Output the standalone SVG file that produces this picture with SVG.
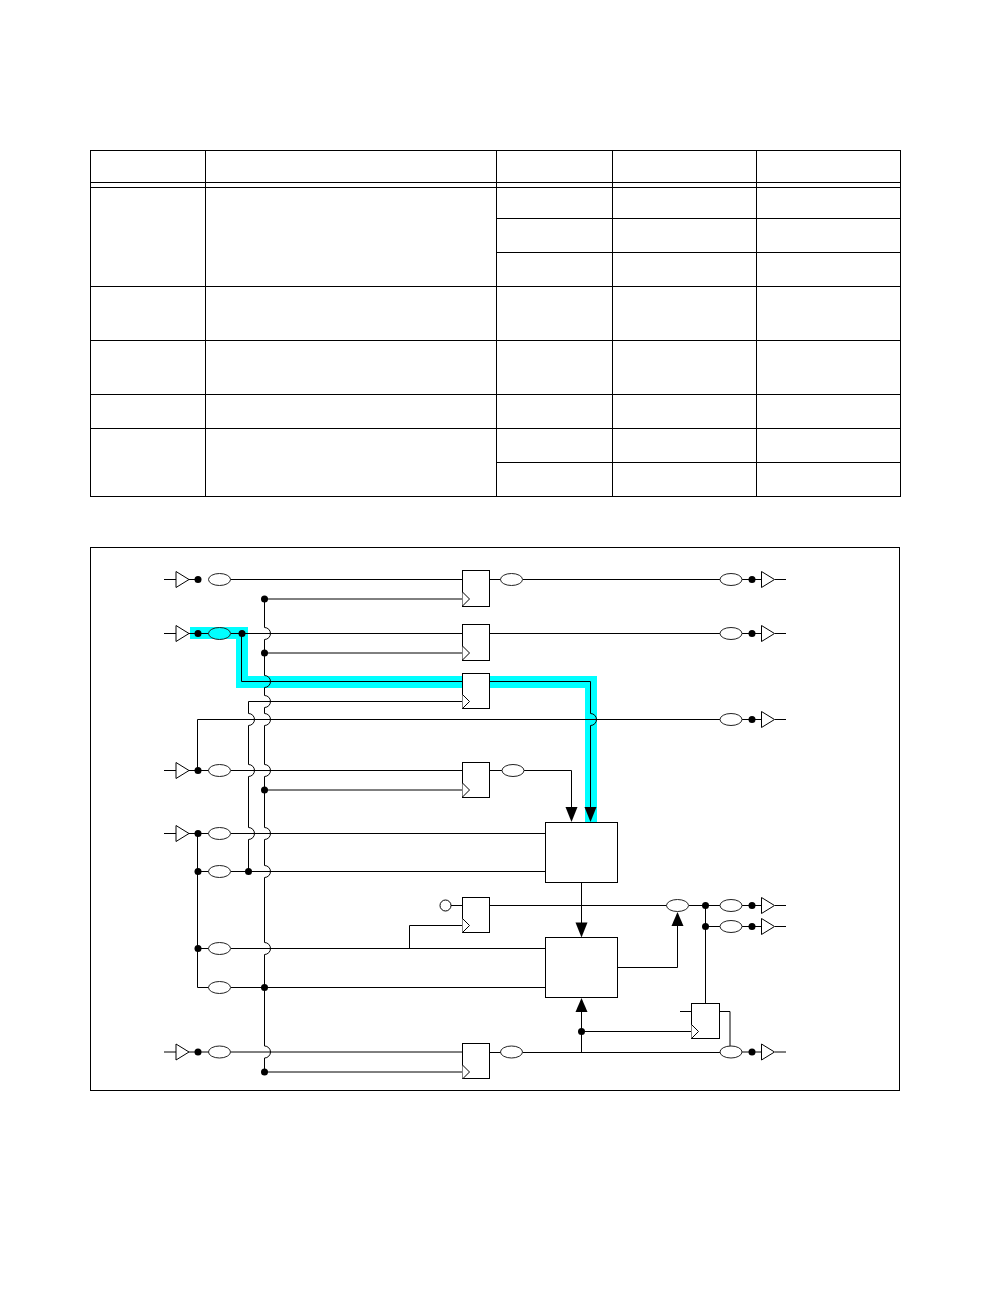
<svg xmlns="http://www.w3.org/2000/svg" width="1008" height="1296" viewBox="0 0 1008 1296">
<style>
.w{fill:none;stroke:#000;stroke-width:1}
.t{fill:none;stroke:#000;stroke-width:1}
.n{fill:#fff;stroke:#000;stroke-width:1}
.e{fill:#fff;stroke:#222;stroke-width:1}
.h{fill:#00ffff;stroke:none}
.d{fill:#000;stroke:none}
.a{fill:#000;stroke:none}
</style>
<defs>
<ellipse id="ov" class="e" rx="11" ry="6"/>
<circle id="dot" class="d" r="3.500"/>
<path id="buf" class="n" d="M0-8L13 0L0 8Z"/>
<path id="ck" class="n" d="M0-7L7 0L0 7"/>
<path id="ad" class="a" d="M-6-15H6L0 0Z"/>
<path id="au" class="a" d="M-6 14H6L0 0Z"/>
</defs>
<rect width="1008" height="1296" fill="#fff"/>
<g id="table" class="t">
<rect x="90.500" y="150.500" width="810" height="346"/>
<path d="M205.500 150.500V496.500M496.500 150.500V496.500M612.500 150.500V496.500M756.500 150.500V496.500"/>
<path d="M90.500 182.500H900.500M90.500 187.500H900.500M496.500 218.500H900.500M496.500 252.500H900.500M90.500 286.500H900.500M90.500 340.500H900.500M90.500 394.500H900.500M90.500 428.500H900.500M496.500 462.500H900.500"/>
</g>
<rect id="frame" class="t" x="90.500" y="547.500" width="809" height="543"/>
<g id="highlight">
<path class="h" d="M190 627H248V676H597V822H585V688H236V639H190Z"/>
</g>
<g id="connectors">
<path class="w" d="M164 579.500H176M164 633.500H176M164 770.500H176M164 833.500H176M164 1052H176"/>
<path class="w" d="M189 579.500H198M230 579.500H462.500M489.500 579.500H501M523 579.500H720M742 579.500H761.500M775 579.500H786"/>
<path class="w" d="M189 633.500H209M231 633.500H462.500M489.500 633.500H720M742 633.500H761.500M775 633.500H786"/>
<path class="w" d="M264.500 599H462.500M264.500 653H462.500M264.500 790H462.500M264.500 1072H462.500"/>
<path class="w" d="M241.500 633.500V681.500H590.500V713.500A6 6 0 0 1 590.500 725.500V808"/>
<path class="w" d="M264.500 599V627.500A6 6 0 0 1 264.500 639.500V675.500A6 6 0 0 1 264.500 687.500V695.500A6 6 0 0 1 264.500 707.500V713.500A6 6 0 0 1 264.500 725.500V764.500A6 6 0 0 1 264.500 776.500V827.500A6 6 0 0 1 264.500 839.500V865.500A6 6 0 0 1 264.500 877.500V942.500A6 6 0 0 1 264.500 954.500V1046A6 6 0 0 1 264.500 1058V1072"/>
<path class="w" d="M462.500 701.500H248.500V713.500A6 6 0 0 1 248.500 725.500V764.500A6 6 0 0 1 248.500 776.500V827.500A6 6 0 0 1 248.500 839.500V871.500"/>
<path class="w" d="M197.500 770.500V719.500H720M742 719.500H761.500M775 719.500H786"/>
<path class="w" d="M189 770.500H209M231 770.500H462.500M489.500 770.500H502M524 770.500H571.500V808"/>
<path class="w" d="M189 833.500H209M231 833.500H545.500M197.500 833.500V987.500H209M197.500 871.500H209M231 871.500H545.500M197.500 948.500H209M231 948.500H545.500M231 987.500H545.500"/>
<path class="w" d="M451 905.500H462.500M409.500 948.500V925.500H462.500"/>
<path class="w" d="M489.500 905.500H667M689 905.500H720M742 905.500H761.500M775 905.500H786M705.500 905.500V1003M705.500 926.500H720M742 926.500H761.500M775 926.500H786"/>
<path class="w" d="M581.500 882V923M617.500 967.500H677.500V925"/>
<path class="w" d="M189 1052H209M231 1052H462.500M489.500 1052.500H501M523 1052.500H720M742 1052H761.500M775 1052H786M581.500 1052.500V1011M581.500 1031.500H691.500"/>
<path class="w" d="M680 1011.500H691.500M719.500 1011.500H730V1046"/>
<g id="arrows">
<use href="#ad" x="571.500" y="822"/>
<use href="#ad" x="590.500" y="822"/>
<use href="#ad" x="581.500" y="937.500"/>
<use href="#au" x="677.500" y="912"/>
<use href="#au" x="581.500" y="998"/>
</g>
<g id="junctions">
<use href="#dot" x="198" y="579.500"/>
<use href="#dot" x="198" y="633.500"/>
<use href="#dot" x="242" y="633.500"/>
<use href="#dot" x="264.500" y="599"/>
<use href="#dot" x="264.500" y="653"/>
<use href="#dot" x="198" y="770.500"/>
<use href="#dot" x="264.500" y="790"/>
<use href="#dot" x="198" y="833.500"/>
<use href="#dot" x="198" y="871.500"/>
<use href="#dot" x="248.500" y="871.500"/>
<use href="#dot" x="198" y="948.500"/>
<use href="#dot" x="264.500" y="987.500"/>
<use href="#dot" x="198" y="1052"/>
<use href="#dot" x="264.500" y="1072"/>
<use href="#dot" x="752" y="579.500"/>
<use href="#dot" x="752" y="633.500"/>
<use href="#dot" x="752" y="719.500"/>
<use href="#dot" x="752" y="905.500"/>
<use href="#dot" x="752" y="926.500"/>
<use href="#dot" x="752" y="1052"/>
<use href="#dot" x="705.500" y="905.500"/>
<use href="#dot" x="705.500" y="926.500"/>
<use href="#dot" x="581.500" y="1031.500"/>
</g>
</g>
<g id="input-buffers">
<use id="ib1" href="#buf" x="176" y="579.500"/>
<use id="ib2" href="#buf" x="176" y="633.500"/>
<use id="ib3" href="#buf" x="176" y="770.500"/>
<use id="ib4" href="#buf" x="176" y="833.500"/>
<use id="ib5" href="#buf" x="176" y="1052"/>
</g>
<g id="output-buffers">
<use id="ob1" href="#buf" x="761.500" y="579.500"/>
<use id="ob2" href="#buf" x="761.500" y="633.500"/>
<use id="ob3" href="#buf" x="761.500" y="719.500"/>
<use id="ob4" href="#buf" x="761.500" y="905.500"/>
<use id="ob5" href="#buf" x="761.500" y="926.500"/>
<use id="ob6" href="#buf" x="761.500" y="1052"/>
</g>
<g id="ovals">
<use href="#ov" x="219.500" y="579.500"/>
<ellipse id="ov-hl" cx="219.500" cy="633.500" rx="11" ry="6" fill="#00ffff" stroke="#222"/>
<use href="#ov" x="219.500" y="770.500"/>
<use href="#ov" x="219.500" y="833.500"/>
<use href="#ov" x="219.500" y="871.500"/>
<use href="#ov" x="219.500" y="948.500"/>
<use href="#ov" x="219.500" y="987.500"/>
<use href="#ov" x="219.500" y="1052"/>
<use href="#ov" x="511.500" y="579.500"/>
<use href="#ov" x="513" y="770.500"/>
<use href="#ov" x="511.500" y="1052"/>
<use href="#ov" x="677.500" y="905.500"/>
<use href="#ov" x="731" y="579.500"/>
<use href="#ov" x="731" y="633.500"/>
<use href="#ov" x="731" y="719.500"/>
<use href="#ov" x="731" y="905.500"/>
<use href="#ov" x="731" y="926.500"/>
<use href="#ov" x="731" y="1052"/>
</g>
<g id="ff1"><rect class="n" x="462.500" y="570.500" width="27" height="36"/><use href="#ck" x="462.500" y="599"/></g>
<g id="ff2"><rect class="n" x="462.500" y="624.500" width="27" height="36"/><use href="#ck" x="462.500" y="653"/></g>
<g id="ff3"><rect class="n" x="462.500" y="673.500" width="27" height="35"/><use href="#ck" x="462.500" y="701.500"/></g>
<g id="ff4"><rect class="n" x="462.500" y="762.500" width="27" height="35"/><use href="#ck" x="462.500" y="790"/></g>
<g id="ff5"><rect class="n" x="462.500" y="897.500" width="27" height="35"/><use href="#ck" x="462.500" y="925.500"/></g>
<g id="ff6"><rect class="n" x="462.500" y="1043.500" width="27" height="35"/><use href="#ck" x="462.500" y="1072"/></g>
<g id="ff7"><rect class="n" x="691.500" y="1003.500" width="28" height="35"/><use href="#ck" x="691.500" y="1031.500"/></g>
<circle id="tie" class="n" cx="445.500" cy="905.500" r="5.500"/>
<rect id="block1" class="n" x="545.500" y="822.500" width="72" height="60"/>
<rect id="block2" class="n" x="545.500" y="937.500" width="72" height="60"/>
</svg>
